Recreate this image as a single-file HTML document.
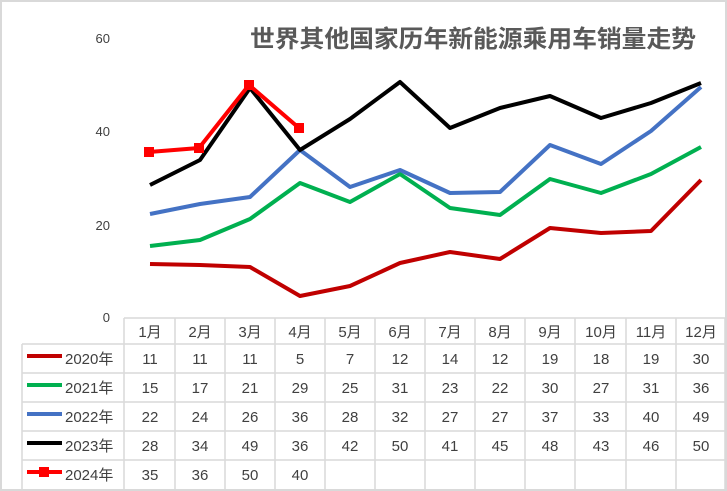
<!DOCTYPE html>
<html><head><meta charset="utf-8"><style>
body{margin:0;background:#fff}
svg{display:block}
text{font-family:"Liberation Sans","Noto Sans CJK SC",sans-serif;fill:#404040}
</style></head><body>
<svg width="727" height="491" viewBox="0 0 727 491">
<rect x="1" y="1" width="725" height="489" fill="#fff" stroke="#d9d9d9" stroke-width="2"/>
<text x="473" y="47" font-size="24" font-weight="bold" text-anchor="middle" textLength="446" lengthAdjust="spacingAndGlyphs" style="fill:#595959;font-family:'Noto Sans CJK SC',sans-serif">世界其他国家历年新能源乘用车销量走势</text>
<g font-size="13" text-anchor="end">
<text x="110" y="43">60</text><text x="110" y="136">40</text><text x="110" y="230">20</text><text x="110" y="322">0</text>
</g>
<g stroke="#d9d9d9" stroke-width="1.5" fill="none">
<line x1="124" y1="318" x2="725" y2="318"/>
<line x1="22" y1="344" x2="725" y2="344"/>
<line x1="22" y1="373" x2="725" y2="373"/>
<line x1="22" y1="402" x2="725" y2="402"/>
<line x1="22" y1="431" x2="725" y2="431"/>
<line x1="22" y1="460" x2="725" y2="460"/>
<line x1="22" y1="344" x2="22" y2="491"/>
<line x1="124" y1="318" x2="124" y2="491"/>
<line x1="175" y1="318" x2="175" y2="491"/>
<line x1="225" y1="318" x2="225" y2="491"/>
<line x1="275" y1="318" x2="275" y2="491"/>
<line x1="325" y1="318" x2="325" y2="491"/>
<line x1="375" y1="318" x2="375" y2="491"/>
<line x1="425" y1="318" x2="425" y2="491"/>
<line x1="475" y1="318" x2="475" y2="491"/>
<line x1="525" y1="318" x2="525" y2="491"/>
<line x1="575" y1="318" x2="575" y2="491"/>
<line x1="626" y1="318" x2="626" y2="491"/>
<line x1="676" y1="318" x2="676" y2="491"/>
<line x1="725" y1="318" x2="725" y2="491"/>
</g>
<g fill="none" stroke-width="4" stroke-linejoin="round">
<polyline stroke="#c00000" points="150,264 200,265 250,267 300,296 350,286 400,263 450,252 500,259 550,228 601,233 651,231 701,180"/>
<polyline stroke="#00b050" points="150,246 200,240 250,219 300,183 350,202 400,174 450,208 500,215 550,179 601,193 651,174 701,147"/>
<polyline stroke="#4472c4" points="150,214 200,204 250,197 300,150 350,187 400,170 450,193 500,192 550,145 601,164 651,131 701,87"/>
<polyline stroke="#000" points="150,185 200,160 250,88 300,150 350,119 400,82 450,128 500,108 550,96 601,118 651,103 701,83"/>
<polyline stroke="#ff0000" points="149,152 199,148 249,85 299,128"/>
</g>
<g fill="#ff0000">
<rect x="144" y="147" width="10" height="10"/><rect x="194" y="143" width="10" height="10"/><rect x="244" y="80" width="10" height="10"/><rect x="294" y="123" width="10" height="10"/>
</g>
<g font-size="15" text-anchor="middle">
<text x="150" y="337">1月</text><text x="200" y="337">2月</text><text x="250" y="337">3月</text><text x="300" y="337">4月</text><text x="350" y="337">5月</text><text x="400" y="337">6月</text><text x="450" y="337">7月</text><text x="500" y="337">8月</text><text x="550" y="337">9月</text><text x="601" y="337">10月</text><text x="651" y="337">11月</text><text x="701" y="337">12月</text>
</g>
<g stroke-width="4">
<line x1="27" y1="356" x2="62" y2="356" stroke="#c00000"/>
<line x1="27" y1="385" x2="62" y2="385" stroke="#00b050"/>
<line x1="27" y1="414" x2="62" y2="414" stroke="#4472c4"/>
<line x1="27" y1="443" x2="62" y2="443" stroke="#000"/>
<line x1="27" y1="472" x2="62" y2="472" stroke="#ff0000"/>
</g>
<rect x="39" y="467" width="10" height="10" fill="#ff0000"/>
<g font-size="15">
<text x="65" y="364">2020年</text><text x="65" y="393">2021年</text><text x="65" y="422">2022年</text><text x="65" y="451">2023年</text><text x="65" y="480">2024年</text>
</g>
<g font-size="15" text-anchor="middle">
<text y="364"><tspan x="150">11</tspan><tspan x="200">11</tspan><tspan x="250">11</tspan><tspan x="300">5</tspan><tspan x="350">7</tspan><tspan x="400">12</tspan><tspan x="450">14</tspan><tspan x="500">12</tspan><tspan x="550">19</tspan><tspan x="601">18</tspan><tspan x="651">19</tspan><tspan x="701">30</tspan></text>
<text y="393"><tspan x="150">15</tspan><tspan x="200">17</tspan><tspan x="250">21</tspan><tspan x="300">29</tspan><tspan x="350">25</tspan><tspan x="400">31</tspan><tspan x="450">23</tspan><tspan x="500">22</tspan><tspan x="550">30</tspan><tspan x="601">27</tspan><tspan x="651">31</tspan><tspan x="701">36</tspan></text>
<text y="422"><tspan x="150">22</tspan><tspan x="200">24</tspan><tspan x="250">26</tspan><tspan x="300">36</tspan><tspan x="350">28</tspan><tspan x="400">32</tspan><tspan x="450">27</tspan><tspan x="500">27</tspan><tspan x="550">37</tspan><tspan x="601">33</tspan><tspan x="651">40</tspan><tspan x="701">49</tspan></text>
<text y="451"><tspan x="150">28</tspan><tspan x="200">34</tspan><tspan x="250">49</tspan><tspan x="300">36</tspan><tspan x="350">42</tspan><tspan x="400">50</tspan><tspan x="450">41</tspan><tspan x="500">45</tspan><tspan x="550">48</tspan><tspan x="601">43</tspan><tspan x="651">46</tspan><tspan x="701">50</tspan></text>
<text y="480"><tspan x="150">35</tspan><tspan x="200">36</tspan><tspan x="250">50</tspan><tspan x="300">40</tspan></text>
</g>
</svg>
</body></html>
